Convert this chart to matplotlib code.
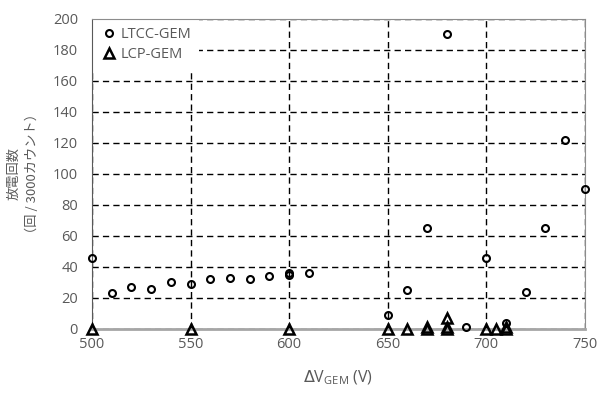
import numpy as np
import matplotlib.pyplot as plt

plt.rcParams['font.family'] = ['Open Sans', 'Noto Sans CJK JP', 'DejaVu Sans']

# LTCC-GEM discharge counts
ltcc_v = [500, 510, 520, 530, 540, 550, 560, 570, 580, 590, 600, 600, 610,
          650, 660, 670, 680, 690, 700, 710, 720, 730, 740, 750]
ltcc_n = [46, 23, 27, 26, 30, 29, 32, 33, 32, 34, 36, 35, 36,
          9, 25, 65, 190, 1, 46, 4, 24, 65, 122, 90]

# LCP-GEM discharge counts
lcp_v = [500, 550, 600, 650, 660, 670, 670, 680, 680, 680, 700, 705, 710, 710]
lcp_n = [0, 0, 0, 0, 0, 0, 1, 0, 1, 7, 0, 0, 0, 1]

grey = '#595959'

fig = plt.figure(figsize=(6.01, 3.94), dpi=100)
ax = fig.add_axes([0.153, 0.165, 0.820, 0.787])

ax.plot(ltcc_v, ltcc_n, 'o', ms=5, mfc='none', mec='black', mew=1.5,
        label='LTCC-GEM', clip_on=False, zorder=3)
ax.plot(lcp_v, lcp_n, '^', ms=6.5, mfc='none', mec='black', mew=1.8,
        label='LCP-GEM', clip_on=False, zorder=3)

ax.set_xlim(500, 750)
ax.set_ylim(0, 200)
ax.set_xticks(np.arange(500, 751, 50))
ax.set_yticks(np.arange(0, 201, 20))
ax.grid(True, color='black', linestyle=(0, (4.5, 3)), linewidth=1)
ax.set_axisbelow(True)

for s in ['top', 'right']:
    ax.spines[s].set_color('#8c8c8c')
ax.spines['left'].set_color('#595959')
ax.spines['bottom'].set_color('#a6a6a6')
ax.spines['bottom'].set_linewidth(2)
for s in ax.spines.values():
    s.set_zorder(2.5)
ax.tick_params(length=0, labelsize=10.5, colors=grey)
ax.tick_params(axis='y', pad=10)
ax.tick_params(axis='x', pad=6)

ax.set_xlabel(r'$\Delta$V$_{\mathregular{GEM}}$ (V)', fontsize=11.5, color=grey,
              labelpad=12)
ax.set_ylabel('放電回数\n（回 / 3000カウント）', fontsize=9.5, color=grey,
              labelpad=10, linespacing=1.5, family=['Noto Sans CJK JP', 'DejaVu Sans'])

leg = ax.legend(loc='upper left', frameon=True, fontsize=10.5, handletextpad=0.1,
                borderaxespad=0.0, labelspacing=0.35, handlelength=1.3,
                fancybox=False, borderpad=0.55)
leg.get_frame().set_edgecolor('none')
leg.get_frame().set_facecolor('white')
leg.get_frame().set_alpha(1)
leg.set_zorder(2)
for t in leg.get_texts():
    t.set_color(grey)

fig.savefig('out.png', dpi=100)
